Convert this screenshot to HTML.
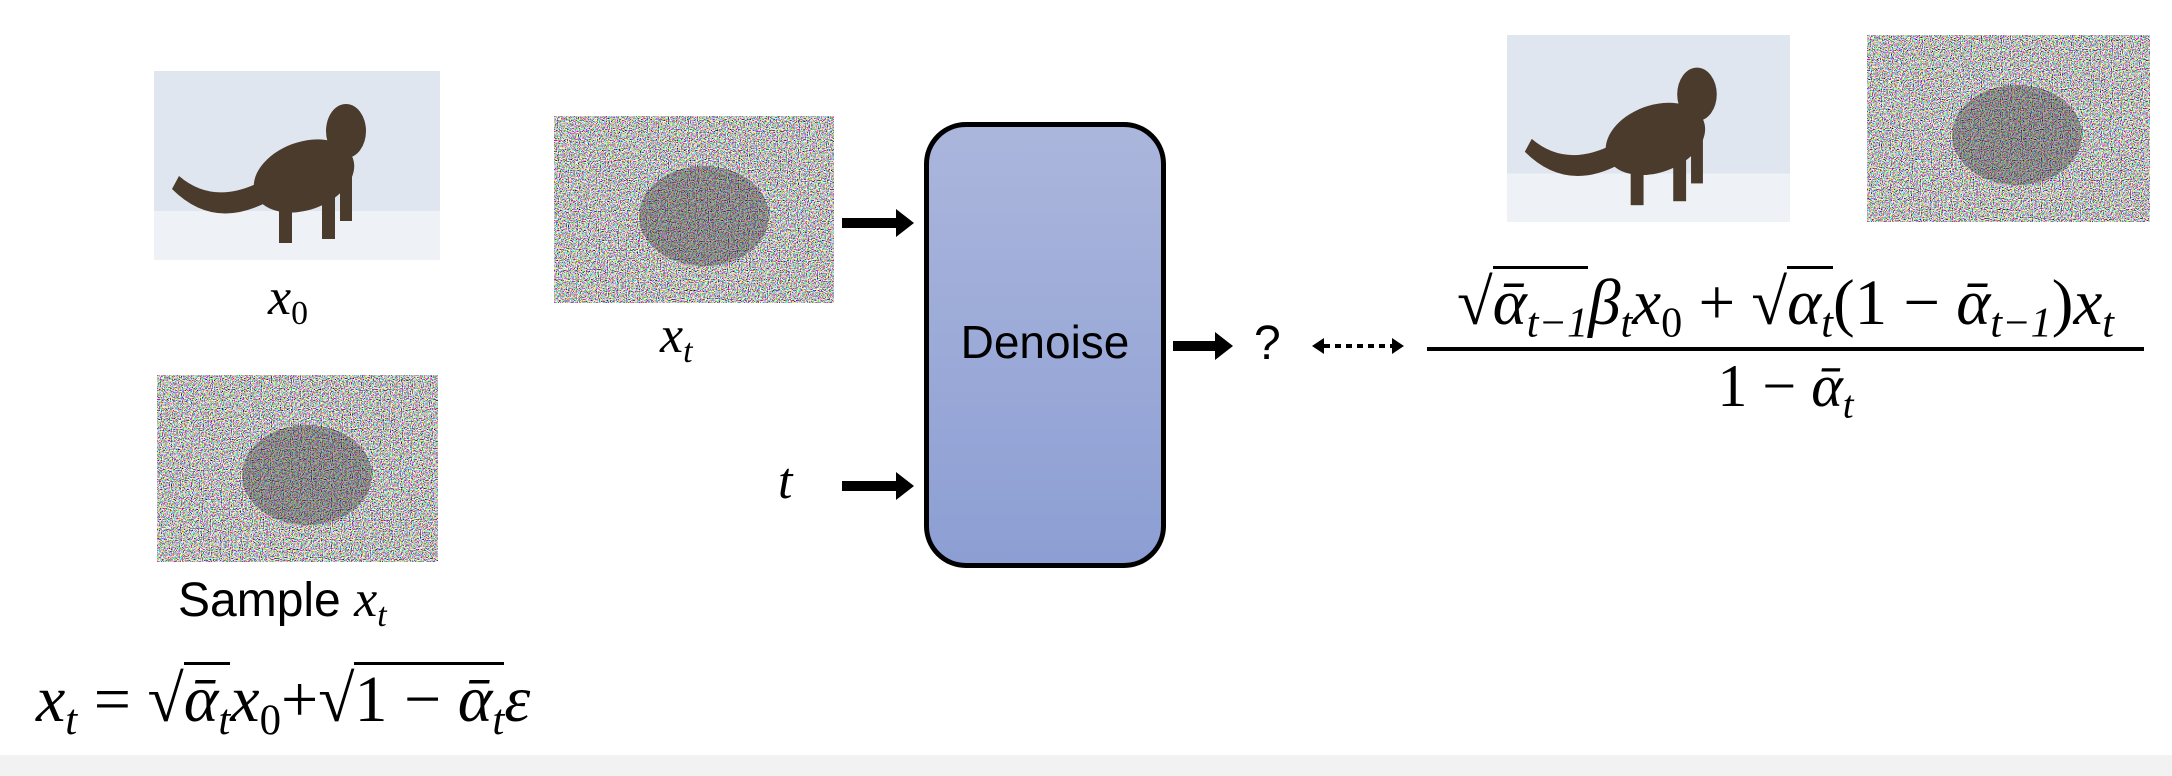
<!DOCTYPE html>
<html><head><meta charset="utf-8"><style>
body{margin:0;width:2172px;height:776px;overflow:hidden;background:#fff;position:relative;font-family:"Liberation Serif",serif;}
.a{position:absolute;}
.m{font-family:"Liberation Serif",serif;font-style:italic;color:#000;white-space:nowrap;}
.r{font-style:normal;}
.sq{border-top:3px solid #000;padding-top:2px;display:inline-block;line-height:1;}
sub{font-size:65%;vertical-align:-0.3em;}
.arrow{position:absolute;height:10px;background:#000;}
.arrow:after{content:"";position:absolute;right:-16px;top:-9px;border-left:18px solid #000;border-top:14px solid transparent;border-bottom:14px solid transparent;}
</style></head><body>
<svg width="0" height="0" style="position:absolute">
<defs>
<filter id="nz" x="0" y="0" width="100%" height="100%">
<feTurbulence type="fractalNoise" baseFrequency="0.9" numOctaves="1" seed="3"/>
<feComponentTransfer><feFuncR type="linear" slope="6" intercept="-2.3"/><feFuncG type="linear" slope="6" intercept="-2.3"/><feFuncB type="linear" slope="6" intercept="-2.3"/><feFuncA type="linear" slope="0" intercept="1"/></feComponentTransfer>
</filter>
<g id="cat">
<rect width="286" height="189" fill="#dfe6ef"/><rect y="140" width="286" height="49" fill="#eef1f5"/>
<g fill="#4a3b2c"><ellipse cx="150" cy="105" rx="52" ry="34" transform="rotate(-20 150 105)"/><rect x="125" y="110" width="13" height="62"/><rect x="168" y="100" width="13" height="68"/><rect x="186" y="95" width="12" height="55"/><ellipse cx="192" cy="60" rx="20" ry="27"/><path d="M108 110 Q60 135 25 105 L18 118 Q60 160 115 130Z"/></g>
</g>
</defs></svg>

<svg class="a" style="left:154px;top:71px" width="286" height="189" viewBox="0 0 286 189"><use href="#cat"/></svg>
<svg class="a" style="left:1506px;top:35px" width="285" height="187" viewBox="0 0 286 189"><use href="#cat"/></svg>

<svg class="a" style="left:157px;top:375px" width="281" height="187"><rect width="281" height="187" filter="url(#nz)"/><ellipse cx="150" cy="100" rx="65" ry="50" fill="#302a30" opacity="0.35"/></svg>
<svg class="a" style="left:554px;top:116px" width="280" height="187"><rect width="280" height="187" filter="url(#nz)"/><ellipse cx="150" cy="100" rx="65" ry="50" fill="#302a30" opacity="0.35"/></svg>
<svg class="a" style="left:1867px;top:35px" width="283" height="187"><rect width="283" height="187" filter="url(#nz)"/><ellipse cx="150" cy="100" rx="65" ry="50" fill="#302a30" opacity="0.35"/></svg>

<div class="a m" style="left:268px;top:268px;font-size:52px">x<sub class="r">0</sub></div>
<div class="a m" style="left:178px;top:570px;font-size:52px"><span style="font-family:'Liberation Sans',sans-serif;font-style:normal;font-size:48px">Sample </span>x<sub>t</sub></div>
<div class="a m" style="left:36px;top:662px;font-size:66px">x<sub>t</sub> <span class="r">=</span> √<span class="sq">ᾱ<sub>t</sub></span>x<sub class="r">0</sub><span class="r">+</span>√<span class="sq"><span class="r">1 − </span>ᾱ<sub>t</sub></span>ε</div>
<div class="a m" style="left:660px;top:306px;font-size:52px">x<sub>t</sub></div>
<div class="a m" style="left:778px;top:452px;font-size:52px">t</div>

<div class="arrow" style="left:842px;top:218px;width:56px"></div>
<div class="arrow" style="left:842px;top:481px;width:56px"></div>

<div class="a" style="left:924px;top:122px;width:232px;height:436px;border:5px solid #000;border-radius:42px;background:linear-gradient(#abb6dc,#8c9ed3);"></div>
<div class="a" style="left:924px;top:315px;width:242px;text-align:center;font-family:'Liberation Sans',sans-serif;font-size:46px">Denoise</div>

<div class="arrow" style="left:1173px;top:341px;width:44px"></div>
<div class="a" style="left:1254px;top:316px;font-family:'Liberation Sans',sans-serif;font-size:48px">?</div>
<svg class="a" style="left:1310px;top:336px" width="96" height="20"><path d="M2 10 L14 2 L14 18Z M94 10 L82 2 L82 18Z" fill="#000"/><line x1="14" y1="10" x2="82" y2="10" stroke="#000" stroke-width="4" stroke-dasharray="6 5"/></svg>

<div class="a m" style="left:1427px;top:266px;width:717px;text-align:center;font-size:65px">√<span class="sq">ᾱ<sub>t−1</sub></span>β<sub>t</sub>x<sub class="r">0</sub> <span class="r">+</span> √<span class="sq">α<sub>t</sub></span><span class="r">(1 − </span>ᾱ<sub>t−1</sub><span class="r">)</span>x<sub>t</sub></div>
<div class="a" style="left:1427px;top:347px;width:717px;height:4px;background:#000"></div>
<div class="a m" style="left:1427px;top:352px;width:717px;text-align:center;font-size:60px"><span class="r">1 − </span>ᾱ<sub>t</sub></div>

<div class="a" style="left:0;top:755px;width:2172px;height:21px;background:#f2f2f2"></div>
</body></html>
